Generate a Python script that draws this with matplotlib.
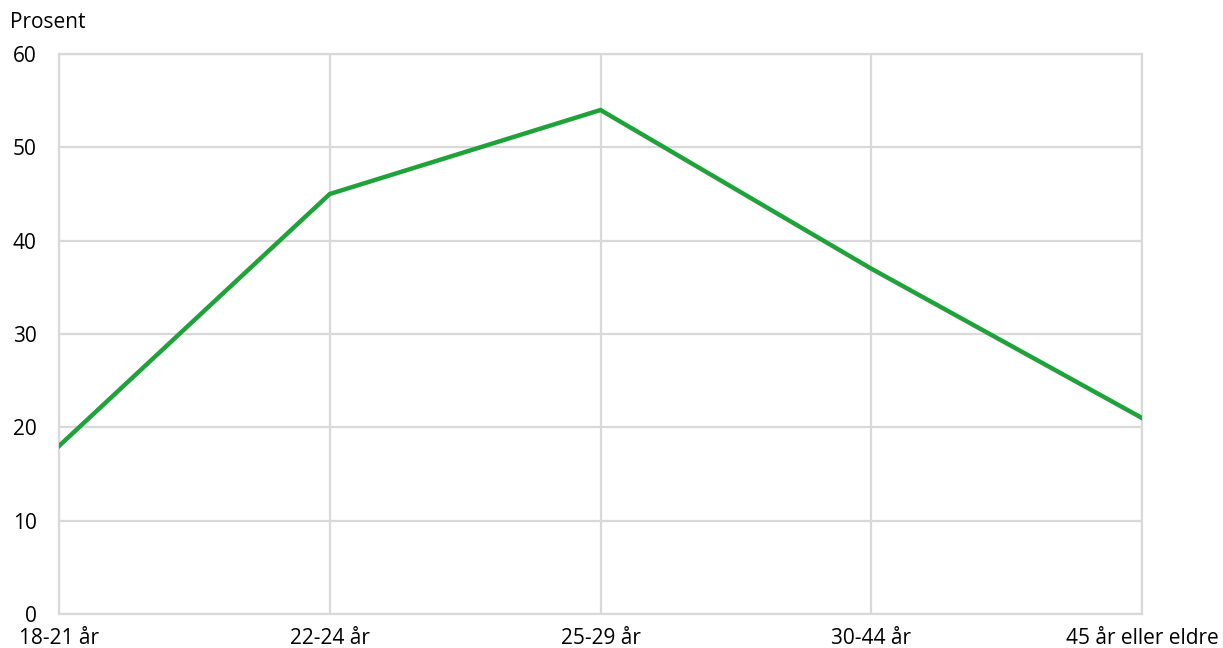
import matplotlib
matplotlib.use("Agg")
import matplotlib.pyplot as plt

# data
categories = ["18-21 år", "22-24 år", "25-29 år", "30-44 år", "45 år eller eldre"]
values = [18, 45, 54, 37, 21]
yticks = [0, 10, 20, 30, 40, 50, 60]

plt.rcParams['font.family'] = ['Open Sans', 'DejaVu Sans']
grid_color = "#d9d9d9"
line_color = "#1fa23a"

fig = plt.figure(figsize=(12.23, 6.48), dpi=100)
ax = fig.add_axes([59 / 1223, 1 - 614 / 648, (1142 - 59) / 1223, (614 - 54) / 648])

x = list(range(len(categories)))
ax.plot(x, values, color=line_color, linewidth=3.2, zorder=3, solid_joinstyle="miter")

ax.set_xlim(0, len(categories) - 1)
ax.set_ylim(0, 60)
ax.set_xticks(x)
ax.set_xticklabels(categories)
ax.set_yticks(yticks)

ax.grid(True, color=grid_color, linewidth=1.6)
ax.set_axisbelow(True)
for s in ax.spines.values():
    s.set_color(grid_color)
    s.set_linewidth(1.6)

ax.tick_params(axis="both", length=0, labelsize=15, colors="black")
ax.tick_params(axis="y", pad=16)
ax.tick_params(axis="x", pad=10)

fig.text(10 / 1223, 1 - 22 / 648, "Prosent", fontsize=15, va="center", ha="left")

fig.savefig("out.png", dpi=100)
